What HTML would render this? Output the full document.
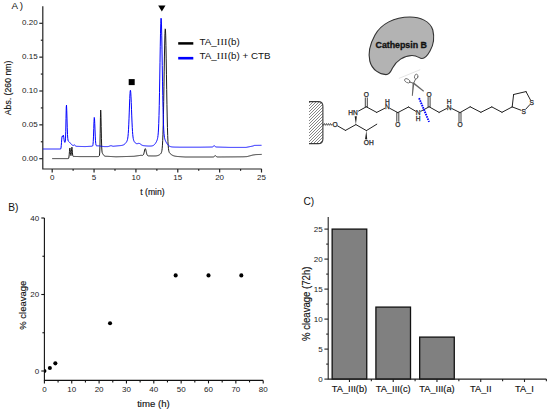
<!DOCTYPE html>
<html><head><meta charset="utf-8"><style>
html,body{margin:0;padding:0;background:#fff;}
body{width:550px;height:413px;overflow:hidden;}
svg{display:block;font-family:"Liberation Sans", sans-serif;}
</style></head><body>
<svg width="550" height="413" viewBox="0 0 550 413">
<rect width="550" height="413" fill="#fff"/>
<!-- Panel A -->
<text x="11.6" y="9" font-size="9.8" letter-spacing="1.6" fill="#111">A)</text>
<g stroke="#222" stroke-width="1.2" fill="none">
<path d="M42.8,6.3 L42.8,169 L261.7,169"/>
<line x1="39.3" y1="158.70" x2="42.8" y2="158.70"/>
<line x1="40.8" y1="141.77" x2="42.8" y2="141.77"/>
<line x1="39.3" y1="124.85" x2="42.8" y2="124.85"/>
<line x1="40.8" y1="107.92" x2="42.8" y2="107.92"/>
<line x1="39.3" y1="91.00" x2="42.8" y2="91.00"/>
<line x1="40.8" y1="74.07" x2="42.8" y2="74.07"/>
<line x1="39.3" y1="57.15" x2="42.8" y2="57.15"/>
<line x1="40.8" y1="40.22" x2="42.8" y2="40.22"/>
<line x1="39.3" y1="23.30" x2="42.8" y2="23.30"/>
<line x1="52.20" y1="169" x2="52.20" y2="172.5"/>
<line x1="73.13" y1="169" x2="73.13" y2="170.8"/>
<line x1="94.06" y1="169" x2="94.06" y2="172.5"/>
<line x1="114.99" y1="169" x2="114.99" y2="170.8"/>
<line x1="135.92" y1="169" x2="135.92" y2="172.5"/>
<line x1="156.85" y1="169" x2="156.85" y2="170.8"/>
<line x1="177.78" y1="169" x2="177.78" y2="172.5"/>
<line x1="198.71" y1="169" x2="198.71" y2="170.8"/>
<line x1="219.64" y1="169" x2="219.64" y2="172.5"/>
<line x1="240.57" y1="169" x2="240.57" y2="170.8"/>
<line x1="261.50" y1="169" x2="261.50" y2="172.5"/>
</g>
<g font-size="8" fill="#222">
<text x="37.6" y="160.60" text-anchor="end">0.00</text>
<text x="37.6" y="126.75" text-anchor="end">0.05</text>
<text x="37.6" y="92.90" text-anchor="end">0.10</text>
<text x="37.6" y="59.05" text-anchor="end">0.15</text>
<text x="37.6" y="25.20" text-anchor="end">0.20</text>
<text x="52.20" y="180.1" text-anchor="middle">0</text>
<text x="94.06" y="180.1" text-anchor="middle">5</text>
<text x="135.92" y="180.1" text-anchor="middle">10</text>
<text x="177.78" y="180.1" text-anchor="middle">15</text>
<text x="219.64" y="180.1" text-anchor="middle">20</text>
<text x="261.50" y="180.1" text-anchor="middle">25</text>
</g>
<text x="152.5" y="194.5" font-size="8.6" fill="#111" stroke="#111" stroke-width="0.15" text-anchor="middle">t (min)</text>
<text transform="translate(10.6,87.9) rotate(-90)" font-size="8.7" fill="#111" stroke="#111" stroke-width="0.15" text-anchor="middle">Abs. (260 nm)</text>
<path d="M52.20,158.60 L52.45,158.60 L52.70,158.60 L52.95,158.60 L53.20,158.60 L53.45,158.60 L53.70,158.60 L53.95,158.60 L54.20,158.60 L54.45,158.60 L54.70,158.60 L54.95,158.60 L55.20,158.60 L55.45,158.60 L55.70,158.60 L55.95,158.60 L56.20,158.60 L56.45,158.60 L56.70,158.60 L56.95,158.60 L57.20,158.60 L57.45,158.60 L57.70,158.60 L57.95,158.60 L58.20,158.60 L58.45,158.60 L58.70,158.60 L58.95,158.60 L59.20,158.60 L59.45,158.60 L59.70,158.60 L59.95,158.60 L60.20,158.60 L60.45,158.60 L60.70,158.60 L60.95,158.60 L61.20,158.60 L61.45,158.60 L61.70,158.60 L61.95,158.60 L62.20,158.60 L62.45,158.60 L62.70,158.60 L62.95,158.60 L63.20,158.60 L63.45,158.60 L63.70,158.60 L63.95,158.60 L64.20,158.60 L64.45,158.60 L64.70,158.60 L64.95,158.60 L65.20,158.60 L65.45,158.60 L65.70,158.60 L65.95,158.60 L66.20,158.60 L66.45,158.60 L66.70,158.60 L66.95,158.60 L67.20,158.60 L67.45,158.60 L67.70,158.60 L67.95,158.60 L68.20,158.59 L68.45,158.55 L68.70,158.17 L68.95,157.01 L69.20,154.85 L69.45,151.63 L69.70,148.81 L69.95,147.98 L70.20,149.68 L70.45,152.57 L70.70,154.85 L70.95,155.61 L71.20,154.54 L71.45,151.62 L71.70,148.27 L71.95,147.19 L72.20,149.40 L72.45,152.84 L72.70,155.21 L72.95,156.15 L73.20,156.37 L73.45,156.40 L73.70,156.41 L73.95,156.42 L74.20,156.43 L74.45,156.43 L74.70,156.44 L74.95,156.45 L75.20,156.46 L75.45,156.46 L75.70,156.47 L75.95,156.48 L76.20,156.49 L76.45,156.49 L76.70,156.50 L76.95,156.51 L77.20,156.52 L77.45,156.52 L77.70,156.53 L77.95,156.54 L78.20,156.55 L78.45,156.55 L78.70,156.56 L78.95,156.57 L79.20,156.58 L79.45,156.58 L79.70,156.59 L79.95,156.60 L80.20,156.60 L80.45,156.60 L80.70,156.60 L80.95,156.60 L81.20,156.60 L81.45,156.60 L81.70,156.60 L81.95,156.60 L82.20,156.60 L82.45,156.60 L82.70,156.60 L82.95,156.60 L83.20,156.60 L83.45,156.60 L83.70,156.60 L83.95,156.60 L84.20,156.60 L84.45,156.60 L84.70,156.60 L84.95,156.60 L85.20,156.60 L85.45,156.60 L85.70,156.60 L85.95,156.60 L86.20,156.60 L86.45,156.60 L86.70,156.60 L86.95,156.60 L87.20,156.60 L87.45,156.60 L87.70,156.60 L87.95,156.60 L88.20,156.60 L88.45,156.60 L88.70,156.60 L88.95,156.60 L89.20,156.60 L89.45,156.60 L89.70,156.60 L89.95,156.60 L90.20,156.60 L90.45,156.60 L90.70,156.60 L90.95,156.60 L91.20,156.60 L91.45,156.60 L91.70,156.60 L91.95,156.60 L92.20,156.60 L92.45,156.60 L92.70,156.60 L92.95,156.60 L93.20,156.60 L93.45,156.60 L93.70,156.60 L93.95,156.60 L94.20,156.60 L94.45,156.60 L94.70,156.60 L94.95,156.60 L95.20,156.60 L95.45,156.60 L95.70,156.60 L95.95,156.60 L96.20,156.60 L96.45,156.60 L96.70,156.60 L96.95,156.60 L97.20,156.59 L97.45,156.59 L97.70,156.58 L97.95,156.56 L98.20,156.52 L98.45,156.47 L98.70,156.40 L98.95,156.28 L99.20,156.04 L99.45,155.37 L99.70,153.03 L99.95,146.35 L100.20,133.24 L100.45,117.63 L100.70,110.07 L100.95,114.85 L101.20,126.66 L101.45,138.82 L101.70,147.02 L101.95,151.04 L102.20,152.61 L102.45,153.24 L102.70,153.65 L102.95,154.03 L103.20,154.43 L103.45,154.82 L103.70,155.18 L103.95,155.48 L104.20,155.73 L104.45,155.93 L104.70,156.07 L104.95,156.17 L105.20,156.23 L105.45,156.27 L105.70,156.29 L105.95,156.30 L106.20,156.31 L106.45,156.31 L106.70,156.30 L106.95,156.30 L107.20,156.31 L107.45,156.32 L107.70,156.34 L107.95,156.35 L108.20,156.37 L108.45,156.38 L108.70,156.39 L108.95,156.41 L109.20,156.42 L109.45,156.44 L109.70,156.45 L109.95,156.46 L110.20,156.48 L110.45,156.49 L110.70,156.51 L110.95,156.52 L111.20,156.53 L111.45,156.55 L111.70,156.56 L111.95,156.57 L112.20,156.59 L112.45,156.60 L112.70,156.62 L112.95,156.63 L113.20,156.64 L113.45,156.66 L113.70,156.67 L113.95,156.69 L114.20,156.70 L114.45,156.71 L114.70,156.73 L114.95,156.74 L115.20,156.76 L115.45,156.77 L115.70,156.78 L115.95,156.80 L116.20,156.79 L116.45,156.79 L116.70,156.78 L116.95,156.77 L117.20,156.77 L117.45,156.76 L117.70,156.75 L117.95,156.75 L118.20,156.74 L118.45,156.73 L118.70,156.73 L118.95,156.72 L119.20,156.71 L119.45,156.70 L119.70,156.70 L119.95,156.69 L120.20,156.68 L120.45,156.68 L120.70,156.67 L120.95,156.66 L121.20,156.66 L121.45,156.65 L121.70,156.64 L121.95,156.63 L122.20,156.63 L122.45,156.62 L122.70,156.61 L122.95,156.61 L123.20,156.60 L123.45,156.59 L123.70,156.59 L123.95,156.58 L124.20,156.57 L124.45,156.57 L124.70,156.56 L124.95,156.55 L125.20,156.54 L125.45,156.54 L125.70,156.53 L125.95,156.52 L126.20,156.52 L126.45,156.51 L126.70,156.50 L126.95,156.50 L127.20,156.49 L127.45,156.48 L127.70,156.48 L127.95,156.47 L128.20,156.46 L128.45,156.45 L128.70,156.45 L128.95,156.44 L129.20,156.43 L129.45,156.43 L129.70,156.42 L129.95,156.41 L130.20,156.41 L130.45,156.40 L130.70,156.39 L130.95,156.38 L131.20,156.38 L131.45,156.37 L131.70,156.36 L131.95,156.36 L132.20,156.35 L132.45,156.34 L132.70,156.34 L132.95,156.33 L133.20,156.32 L133.45,156.32 L133.70,156.31 L133.95,156.30 L134.20,156.27 L134.45,156.24 L134.70,156.20 L134.95,156.16 L135.20,156.13 L135.45,156.09 L135.70,156.06 L135.95,156.02 L136.20,155.99 L136.45,155.95 L136.70,155.91 L136.95,155.88 L137.20,155.84 L137.45,155.81 L137.70,155.77 L137.95,155.74 L138.20,155.70 L138.45,155.66 L138.70,155.63 L138.95,155.59 L139.20,155.56 L139.45,155.52 L139.70,155.49 L139.95,155.45 L140.20,155.41 L140.45,155.38 L140.70,155.34 L140.95,155.31 L141.20,155.32 L141.45,155.33 L141.70,155.35 L141.95,155.37 L142.20,155.38 L142.45,155.37 L142.70,155.33 L142.95,155.22 L143.20,155.01 L143.45,154.65 L143.70,154.07 L143.95,153.26 L144.20,152.24 L144.45,151.09 L144.70,149.99 L144.95,149.12 L145.20,148.67 L145.45,148.75 L145.70,149.33 L145.95,150.30 L146.20,151.46 L146.45,152.64 L146.70,153.66 L146.95,154.47 L147.20,155.04 L147.45,155.41 L147.70,155.63 L147.95,155.76 L148.20,155.83 L148.45,155.87 L148.70,155.90 L148.95,155.90 L149.20,155.91 L149.45,155.91 L149.70,155.91 L149.95,155.92 L150.20,155.92 L150.45,155.92 L150.70,155.93 L150.95,155.93 L151.20,155.93 L151.45,155.94 L151.70,155.94 L151.95,155.94 L152.20,155.95 L152.45,155.95 L152.70,155.95 L152.95,155.95 L153.20,155.96 L153.45,155.96 L153.70,155.96 L153.95,155.96 L154.20,155.96 L154.45,155.95 L154.70,155.95 L154.95,155.95 L155.20,155.94 L155.45,155.93 L155.70,155.92 L155.95,155.90 L156.20,155.87 L156.45,155.84 L156.70,155.80 L156.95,155.75 L157.20,155.70 L157.45,155.64 L157.70,155.57 L157.95,155.49 L158.20,155.40 L158.45,155.30 L158.70,155.19 L158.95,155.06 L159.20,154.92 L159.45,154.77 L159.70,154.60 L159.95,154.42 L160.20,154.22 L160.45,154.00 L160.70,153.75 L160.95,153.44 L161.20,153.04 L161.45,152.46 L161.70,151.61 L161.95,150.29 L162.20,148.26 L162.45,145.18 L162.70,140.65 L162.95,134.27 L163.20,125.70 L163.45,114.76 L163.70,101.60 L163.95,86.74 L164.20,71.11 L164.45,56.05 L164.70,43.05 L164.95,33.60 L165.20,28.83 L165.45,29.37 L165.70,35.13 L165.95,45.39 L166.20,58.91 L166.45,74.18 L166.70,89.71 L166.95,104.27 L167.20,116.98 L167.45,127.40 L167.70,135.48 L167.95,141.42 L168.20,145.59 L168.45,148.40 L168.70,150.23 L168.95,151.41 L169.20,152.18 L169.45,152.69 L169.70,153.06 L169.95,153.34 L170.20,153.60 L170.45,153.84 L170.70,154.06 L170.95,154.26 L171.20,154.46 L171.45,154.64 L171.70,154.81 L171.95,154.97 L172.20,155.12 L172.45,155.25 L172.70,155.38 L172.95,155.50 L173.20,155.60 L173.45,155.70 L173.70,155.79 L173.95,155.87 L174.20,155.95 L174.45,156.01 L174.70,156.07 L174.95,156.13 L175.20,156.18 L175.45,156.23 L175.70,156.27 L175.95,156.31 L176.20,156.34 L176.45,156.37 L176.70,156.40 L176.95,156.42 L177.20,156.45 L177.45,156.47 L177.70,156.49 L177.95,156.51 L178.20,156.53 L178.45,156.55 L178.70,156.57 L178.95,156.59 L179.20,156.61 L179.45,156.63 L179.70,156.64 L179.95,156.66 L180.20,156.68 L180.45,156.70 L180.70,156.71 L180.95,156.73 L181.20,156.75 L181.45,156.76 L181.70,156.78 L181.95,156.80 L182.20,156.81 L182.45,156.83 L182.70,156.85 L182.95,156.86 L183.20,156.88 L183.45,156.90 L183.70,156.91 L183.95,156.93 L184.20,156.95 L184.45,156.96 L184.70,156.98 L184.95,157.00 L185.20,157.00 L185.45,157.00 L185.70,157.00 L185.95,157.00 L186.20,157.00 L186.45,157.00 L186.70,157.00 L186.95,157.00 L187.20,157.00 L187.45,157.00 L187.70,157.00 L187.95,157.00 L188.20,157.00 L188.45,157.00 L188.70,157.00 L188.95,157.00 L189.20,157.00 L189.45,157.00 L189.70,157.00 L189.95,157.00 L190.20,157.00 L190.45,157.00 L190.70,157.00 L190.95,157.00 L191.20,157.00 L191.45,157.00 L191.70,157.00 L191.95,157.00 L192.20,157.00 L192.45,157.00 L192.70,157.00 L192.95,157.00 L193.20,157.00 L193.45,157.00 L193.70,157.00 L193.95,157.00 L194.20,157.00 L194.45,157.00 L194.70,157.00 L194.95,157.00 L195.20,157.00 L195.45,157.00 L195.70,157.00 L195.95,157.00 L196.20,157.00 L196.45,157.00 L196.70,157.00 L196.95,157.00 L197.20,157.00 L197.45,157.00 L197.70,157.00 L197.95,157.00 L198.20,157.00 L198.45,157.00 L198.70,157.00 L198.95,157.00 L199.20,157.00 L199.45,157.00 L199.70,157.00 L199.95,157.00 L200.20,157.00 L200.45,157.00 L200.70,157.00 L200.95,157.00 L201.20,157.00 L201.45,157.00 L201.70,157.00 L201.95,157.00 L202.20,157.00 L202.45,157.00 L202.70,157.00 L202.95,157.00 L203.20,157.00 L203.45,157.00 L203.70,157.00 L203.95,157.00 L204.20,157.00 L204.45,157.00 L204.70,157.00 L204.95,157.00 L205.20,157.00 L205.45,157.00 L205.70,157.00 L205.95,157.00 L206.20,157.00 L206.45,157.00 L206.70,157.00 L206.95,157.00 L207.20,157.00 L207.45,157.00 L207.70,157.00 L207.95,157.00 L208.20,157.00 L208.45,157.00 L208.70,157.00 L208.95,157.00 L209.20,157.00 L209.45,157.00 L209.70,157.00 L209.95,157.00 L210.20,157.00 L210.45,157.00 L210.70,157.00 L210.95,157.00 L211.20,157.00 L211.45,157.00 L211.70,157.00 L211.95,157.00 L212.20,157.00 L212.45,157.00 L212.70,156.99 L212.95,156.98 L213.20,156.96 L213.45,156.91 L213.70,156.82 L213.95,156.69 L214.20,156.49 L214.45,156.26 L214.70,156.02 L214.95,155.82 L215.20,155.71 L215.45,155.72 L215.70,155.85 L215.95,156.07 L216.20,156.31 L216.45,156.53 L216.70,156.71 L216.95,156.84 L217.20,156.91 L217.45,156.95 L217.70,156.97 L217.95,156.98 L218.20,156.98 L218.45,156.98 L218.70,156.98 L218.95,156.98 L219.20,156.98 L219.45,156.97 L219.70,156.97 L219.95,156.97 L220.20,156.97 L220.45,156.97 L220.70,156.97 L220.95,156.96 L221.20,156.96 L221.45,156.96 L221.70,156.96 L221.95,156.96 L222.20,156.95 L222.45,156.95 L222.70,156.95 L222.95,156.95 L223.20,156.95 L223.45,156.94 L223.70,156.94 L223.95,156.94 L224.20,156.94 L224.45,156.94 L224.70,156.94 L224.95,156.93 L225.20,156.93 L225.45,156.93 L225.70,156.93 L225.95,156.93 L226.20,156.92 L226.45,156.92 L226.70,156.92 L226.95,156.92 L227.20,156.92 L227.45,156.92 L227.70,156.91 L227.95,156.91 L228.20,156.91 L228.45,156.91 L228.70,156.91 L228.95,156.90 L229.20,156.90 L229.45,156.90 L229.70,156.90 L229.95,156.90 L230.20,156.89 L230.45,156.89 L230.70,156.89 L230.95,156.89 L231.20,156.89 L231.45,156.89 L231.70,156.88 L231.95,156.88 L232.20,156.88 L232.45,156.88 L232.70,156.88 L232.95,156.87 L233.20,156.87 L233.45,156.87 L233.70,156.87 L233.95,156.87 L234.20,156.87 L234.45,156.86 L234.70,156.86 L234.95,156.86 L235.20,156.86 L235.45,156.86 L235.70,156.85 L235.95,156.85 L236.20,156.85 L236.45,156.85 L236.70,156.85 L236.95,156.84 L237.20,156.84 L237.45,156.84 L237.70,156.84 L237.95,156.84 L238.20,156.84 L238.45,156.83 L238.70,156.83 L238.95,156.83 L239.20,156.83 L239.45,156.83 L239.70,156.82 L239.95,156.82 L240.20,156.82 L240.45,156.82 L240.70,156.82 L240.95,156.82 L241.20,156.81 L241.45,156.81 L241.70,156.81 L241.95,156.81 L242.20,156.81 L242.45,156.80 L242.70,156.80 L242.95,156.80 L243.20,156.79 L243.45,156.78 L243.70,156.77 L243.95,156.75 L244.20,156.74 L244.45,156.73 L244.70,156.72 L244.95,156.70 L245.20,156.69 L245.45,156.68 L245.70,156.66 L245.95,156.65 L246.20,156.64 L246.45,156.63 L246.70,156.62 L246.95,156.60 L247.20,156.55 L247.45,156.48 L247.70,156.41 L247.95,156.35 L248.20,156.28 L248.45,156.21 L248.70,156.15 L248.95,156.08 L249.20,156.01 L249.45,155.95 L249.70,155.88 L249.95,155.81 L250.20,155.75 L250.45,155.68 L250.70,155.61 L250.95,155.55 L251.20,155.48 L251.45,155.41 L251.70,155.35 L251.95,155.28 L252.20,155.21 L252.45,155.15 L252.70,155.08 L252.95,155.01 L253.20,154.97 L253.45,154.94 L253.70,154.91 L253.95,154.87 L254.20,154.84 L254.45,154.81 L254.70,154.77 L254.95,154.74 L255.20,154.71 L255.45,154.67 L255.70,154.64 L255.95,154.61 L256.20,154.59 L256.45,154.58 L256.70,154.58 L256.95,154.57 L257.20,154.56 L257.45,154.55 L257.70,154.54 L257.95,154.53 L258.20,154.52 L258.45,154.51 L258.70,154.51 L258.95,154.50 L259.20,154.49 L259.45,154.48 L259.70,154.47 L259.95,154.46 L260.20,154.45 L260.45,154.44 L260.70,154.44 L260.95,154.43 L261.20,154.42 L261.45,154.41 L261.70,154.40" fill="none" stroke="#1a1a1a" stroke-width="1" stroke-linejoin="round"/>
<path d="M43.00,149.00 L43.25,149.00 L43.50,149.00 L43.75,149.00 L44.00,149.00 L44.25,149.00 L44.50,149.00 L44.75,149.00 L45.00,149.00 L45.25,149.00 L45.50,149.00 L45.75,149.00 L46.00,149.00 L46.25,149.00 L46.50,149.00 L46.75,149.00 L47.00,149.00 L47.25,149.00 L47.50,149.00 L47.75,149.00 L48.00,149.00 L48.25,149.00 L48.50,149.00 L48.75,149.00 L49.00,149.00 L49.25,149.00 L49.50,149.00 L49.75,149.00 L50.00,149.00 L50.25,149.00 L50.50,149.00 L50.75,149.00 L51.00,149.00 L51.25,149.00 L51.50,149.00 L51.75,149.00 L52.00,149.00 L52.25,149.00 L52.50,149.00 L52.75,149.00 L53.00,149.00 L53.25,149.00 L53.50,149.00 L53.75,149.00 L54.00,149.00 L54.25,149.00 L54.50,149.00 L54.75,149.00 L55.00,149.00 L55.25,149.00 L55.50,149.00 L55.75,149.00 L56.00,149.00 L56.25,149.00 L56.50,149.00 L56.75,149.00 L57.00,149.00 L57.25,149.00 L57.50,149.00 L57.75,149.00 L58.00,149.00 L58.25,149.00 L58.50,149.00 L58.75,149.00 L59.00,149.00 L59.25,149.00 L59.50,149.00 L59.75,149.00 L60.00,148.99 L60.25,148.98 L60.50,148.96 L60.75,148.86 L61.00,147.98 L61.25,145.66 L61.50,142.34 L61.75,139.08 L62.00,136.81 L62.25,136.12 L62.50,136.55 L62.75,136.62 L63.00,135.78 L63.25,135.02 L63.50,135.49 L63.75,137.22 L64.00,139.28 L64.25,140.88 L64.50,141.81 L64.75,142.28 L65.00,142.40 L65.25,141.77 L65.50,138.89 L65.75,131.27 L66.00,118.64 L66.25,107.12 L66.50,105.13 L66.75,110.28 L67.00,118.98 L67.25,127.80 L67.50,134.42 L67.75,138.31 L68.00,140.14 L68.25,140.97 L68.50,141.33 L68.75,141.55 L69.00,141.76 L69.25,141.98 L69.50,142.23 L69.75,142.50 L70.00,142.79 L70.25,143.08 L70.50,143.38 L70.75,143.68 L71.00,143.97 L71.25,144.21 L71.50,144.45 L71.75,144.67 L72.00,144.88 L72.25,145.06 L72.50,145.23 L72.75,145.38 L73.00,145.52 L73.25,145.45 L73.50,145.37 L73.75,145.28 L74.00,145.17 L74.25,145.06 L74.50,144.95 L74.75,145.18 L75.00,145.41 L75.25,145.63 L75.50,145.85 L75.75,146.08 L76.00,146.29 L76.25,146.30 L76.50,146.31 L76.75,146.32 L77.00,146.33 L77.25,146.34 L77.50,146.35 L77.75,146.36 L78.00,146.37 L78.25,146.37 L78.50,146.38 L78.75,146.39 L79.00,146.40 L79.25,146.41 L79.50,146.42 L79.75,146.42 L80.00,146.43 L80.25,146.44 L80.50,146.45 L80.75,146.46 L81.00,146.47 L81.25,146.47 L81.50,146.48 L81.75,146.49 L82.00,146.50 L82.25,146.51 L82.50,146.52 L82.75,146.52 L83.00,146.53 L83.25,146.54 L83.50,146.55 L83.75,146.56 L84.00,146.57 L84.25,146.57 L84.50,146.58 L84.75,146.59 L85.00,146.60 L85.25,146.59 L85.50,146.57 L85.75,146.56 L86.00,146.54 L86.25,146.53 L86.50,146.51 L86.75,146.50 L87.00,146.49 L87.25,146.47 L87.50,146.46 L87.75,146.44 L88.00,146.43 L88.25,146.41 L88.50,146.40 L88.75,146.39 L89.00,146.37 L89.25,146.36 L89.50,146.34 L89.75,146.33 L90.00,146.31 L90.25,146.30 L90.50,146.29 L90.75,146.27 L91.00,146.26 L91.25,146.24 L91.50,146.23 L91.75,146.21 L92.00,146.20 L92.25,146.16 L92.50,146.03 L92.75,145.61 L93.00,144.38 L93.25,141.48 L93.50,136.14 L93.75,128.68 L94.00,121.33 L94.25,117.47 L94.50,118.66 L94.75,123.43 L95.00,129.93 L95.25,136.12 L95.50,140.75 L95.75,143.57 L96.00,144.99 L96.25,145.60 L96.50,145.81 L96.75,145.86 L97.00,145.86 L97.25,145.85 L97.50,145.83 L97.75,145.82 L98.00,145.80 L98.25,145.83 L98.50,145.87 L98.75,145.90 L99.00,145.93 L99.25,145.97 L99.50,146.00 L99.75,146.03 L100.00,146.07 L100.25,146.10 L100.50,146.13 L100.75,146.17 L101.00,146.20 L101.25,146.23 L101.50,146.27 L101.75,146.30 L102.00,146.33 L102.25,146.37 L102.50,146.40 L102.75,146.43 L103.00,146.47 L103.25,146.50 L103.50,146.53 L103.75,146.57 L104.00,146.60 L104.25,146.60 L104.50,146.60 L104.75,146.60 L105.00,146.60 L105.25,146.60 L105.50,146.60 L105.75,146.60 L106.00,146.60 L106.25,146.60 L106.50,146.60 L106.75,146.60 L107.00,146.60 L107.25,146.60 L107.50,146.60 L107.75,146.60 L108.00,146.60 L108.25,146.52 L108.50,146.43 L108.75,146.35 L109.00,146.27 L109.25,146.18 L109.50,146.10 L109.75,146.02 L110.00,145.93 L110.25,145.85 L110.50,145.77 L110.75,145.68 L111.00,145.60 L111.25,145.69 L111.50,145.77 L111.75,145.86 L112.00,145.95 L112.25,146.04 L112.50,146.12 L112.75,146.21 L113.00,146.30 L113.25,146.27 L113.50,146.25 L113.75,146.22 L114.00,146.20 L114.25,146.17 L114.50,146.15 L114.75,146.12 L115.00,146.10 L115.25,146.07 L115.50,146.05 L115.75,146.02 L116.00,146.00 L116.25,145.97 L116.50,145.95 L116.75,145.92 L117.00,145.90 L117.25,145.87 L117.50,145.85 L117.75,145.82 L118.00,145.80 L118.25,145.78 L118.50,145.76 L118.75,145.74 L119.00,145.72 L119.25,145.70 L119.50,145.68 L119.75,145.65 L120.00,145.63 L120.25,145.61 L120.50,145.58 L120.75,145.55 L121.00,145.52 L121.25,145.48 L121.50,145.45 L121.75,145.40 L122.00,145.35 L122.25,145.29 L122.50,145.23 L122.75,145.15 L123.00,145.07 L123.25,144.97 L123.50,144.85 L123.75,144.73 L124.00,144.58 L124.25,144.41 L124.50,144.23 L124.75,144.02 L125.00,143.79 L125.25,143.54 L125.50,143.26 L125.75,142.96 L126.00,142.63 L126.25,142.29 L126.50,141.92 L126.75,141.49 L127.00,140.98 L127.25,140.32 L127.50,139.41 L127.75,138.11 L128.00,136.22 L128.25,133.50 L128.50,129.76 L128.75,124.87 L129.00,118.87 L129.25,112.08 L129.50,105.05 L129.75,98.56 L130.00,93.49 L130.25,90.59 L130.50,90.29 L130.75,92.48 L131.00,96.79 L131.25,102.62 L131.50,109.24 L131.75,115.91 L132.00,122.05 L132.25,127.29 L132.50,131.49 L132.75,134.66 L133.00,136.97 L133.25,138.59 L133.50,139.72 L133.75,140.52 L134.00,141.12 L134.25,141.58 L134.50,141.96 L134.75,142.28 L135.00,142.57 L135.25,142.83 L135.50,143.05 L135.75,143.25 L136.00,143.40 L136.25,143.53 L136.50,143.61 L136.75,143.67 L137.00,143.68 L137.25,143.67 L137.50,143.63 L137.75,143.57 L138.00,143.51 L138.25,143.43 L138.50,143.37 L138.75,143.32 L139.00,143.29 L139.25,143.37 L139.50,143.47 L139.75,143.61 L140.00,143.76 L140.25,143.94 L140.50,144.12 L140.75,144.31 L141.00,144.50 L141.25,144.68 L141.50,144.85 L141.75,145.00 L142.00,145.14 L142.25,145.26 L142.50,145.37 L142.75,145.46 L143.00,145.55 L143.25,145.59 L143.50,145.63 L143.75,145.66 L144.00,145.69 L144.25,145.72 L144.50,145.75 L144.75,145.77 L145.00,145.80 L145.25,145.82 L145.50,145.85 L145.75,145.87 L146.00,145.90 L146.25,145.92 L146.50,145.95 L146.75,145.97 L147.00,146.00 L147.25,146.01 L147.50,146.01 L147.75,146.02 L148.00,146.03 L148.25,146.04 L148.50,146.04 L148.75,146.05 L149.00,146.05 L149.25,146.06 L149.50,146.06 L149.75,146.06 L150.00,146.06 L150.25,146.05 L150.50,146.05 L150.75,146.04 L151.00,146.02 L151.25,146.00 L151.50,145.98 L151.75,145.94 L152.00,145.90 L152.25,145.85 L152.50,145.78 L152.75,145.70 L153.00,145.61 L153.25,145.48 L153.50,145.33 L153.75,145.17 L154.00,144.97 L154.25,144.76 L154.50,144.52 L154.75,144.25 L155.00,143.95 L155.25,143.62 L155.50,143.26 L155.75,142.86 L156.00,142.44 L156.25,141.98 L156.50,141.49 L156.75,140.95 L157.00,140.33 L157.25,139.60 L157.50,138.67 L157.75,137.40 L158.00,135.58 L158.25,132.91 L158.50,128.99 L158.75,123.35 L159.00,115.56 L159.25,105.35 L159.50,92.70 L159.75,78.04 L160.00,62.28 L160.25,46.79 L160.50,33.22 L160.75,23.25 L161.00,18.21 L161.25,18.80 L161.50,24.94 L161.75,35.77 L162.00,49.87 L162.25,65.54 L162.50,81.17 L162.75,95.47 L163.00,107.64 L163.25,117.33 L163.50,124.64 L163.75,129.88 L164.00,133.50 L164.25,135.94 L164.50,137.60 L164.75,138.75 L165.00,139.61 L165.25,140.29 L165.50,140.88 L165.75,141.41 L166.00,141.90 L166.25,142.37 L166.50,142.81 L166.75,143.23 L167.00,143.62 L167.25,143.98 L167.50,144.32 L167.75,144.63 L168.00,144.92 L168.25,145.18 L168.50,145.42 L168.75,145.64 L169.00,145.84 L169.25,146.01 L169.50,146.17 L169.75,146.31 L170.00,146.44 L170.25,146.53 L170.50,146.61 L170.75,146.68 L171.00,146.75 L171.25,146.80 L171.50,146.85 L171.75,146.88 L172.00,146.92 L172.25,146.95 L172.50,146.97 L172.75,146.99 L173.00,147.01 L173.25,147.02 L173.50,147.04 L173.75,147.05 L174.00,147.06 L174.25,147.07 L174.50,147.08 L174.75,147.09 L175.00,147.09 L175.25,147.10 L175.50,147.11 L175.75,147.11 L176.00,147.12 L176.25,147.12 L176.50,147.13 L176.75,147.13 L177.00,147.14 L177.25,147.14 L177.50,147.15 L177.75,147.15 L178.00,147.16 L178.25,147.16 L178.50,147.17 L178.75,147.17 L179.00,147.18 L179.25,147.18 L179.50,147.19 L179.75,147.19 L180.00,147.20 L180.25,147.20 L180.50,147.20 L180.75,147.20 L181.00,147.20 L181.25,147.20 L181.50,147.20 L181.75,147.20 L182.00,147.20 L182.25,147.20 L182.50,147.20 L182.75,147.20 L183.00,147.20 L183.25,147.20 L183.50,147.20 L183.75,147.20 L184.00,147.20 L184.25,147.20 L184.50,147.20 L184.75,147.20 L185.00,147.20 L185.25,147.20 L185.50,147.20 L185.75,147.20 L186.00,147.20 L186.25,147.20 L186.50,147.20 L186.75,147.20 L187.00,147.20 L187.25,147.20 L187.50,147.20 L187.75,147.20 L188.00,147.20 L188.25,147.20 L188.50,147.20 L188.75,147.20 L189.00,147.20 L189.25,147.20 L189.50,147.20 L189.75,147.20 L190.00,147.20 L190.25,147.20 L190.50,147.20 L190.75,147.20 L191.00,147.20 L191.25,147.20 L191.50,147.20 L191.75,147.20 L192.00,147.20 L192.25,147.20 L192.50,147.20 L192.75,147.20 L193.00,147.20 L193.25,147.20 L193.50,147.20 L193.75,147.20 L194.00,147.20 L194.25,147.20 L194.50,147.20 L194.75,147.20 L195.00,147.20 L195.25,147.20 L195.50,147.20 L195.75,147.20 L196.00,147.20 L196.25,147.20 L196.50,147.20 L196.75,147.20 L197.00,147.20 L197.25,147.20 L197.50,147.20 L197.75,147.20 L198.00,147.20 L198.25,147.20 L198.50,147.20 L198.75,147.20 L199.00,147.20 L199.25,147.20 L199.50,147.20 L199.75,147.20 L200.00,147.20 L200.25,147.20 L200.50,147.19 L200.75,147.19 L201.00,147.18 L201.25,147.18 L201.50,147.18 L201.75,147.17 L202.00,147.17 L202.25,147.17 L202.50,147.16 L202.75,147.16 L203.00,147.15 L203.25,147.15 L203.50,147.15 L203.75,147.14 L204.00,147.14 L204.25,147.13 L204.50,147.13 L204.75,147.13 L205.00,147.12 L205.25,147.12 L205.50,147.12 L205.75,147.11 L206.00,147.11 L206.25,147.10 L206.50,147.10 L206.75,147.10 L207.00,147.09 L207.25,147.09 L207.50,147.08 L207.75,147.08 L208.00,147.08 L208.25,147.07 L208.50,147.07 L208.75,147.07 L209.00,147.06 L209.25,147.06 L209.50,147.05 L209.75,147.05 L210.00,147.05 L210.25,147.04 L210.50,147.04 L210.75,147.03 L211.00,147.03 L211.25,147.03 L211.50,147.02 L211.75,147.01 L212.00,146.99 L212.25,146.95 L212.50,146.88 L212.75,146.77 L213.00,146.61 L213.25,146.41 L213.50,146.18 L213.75,145.98 L214.00,145.84 L214.25,145.80 L214.50,145.88 L214.75,146.05 L215.00,146.27 L215.25,146.49 L215.50,146.68 L215.75,146.82 L216.00,146.90 L216.25,146.96 L216.50,147.00 L216.75,147.01 L217.00,147.03 L217.25,147.03 L217.50,147.04 L217.75,147.05 L218.00,147.06 L218.25,147.06 L218.50,147.07 L218.75,147.08 L219.00,147.09 L219.25,147.09 L219.50,147.10 L219.75,147.11 L220.00,147.11 L220.25,147.12 L220.50,147.13 L220.75,147.14 L221.00,147.14 L221.25,147.15 L221.50,147.16 L221.75,147.16 L222.00,147.17 L222.25,147.18 L222.50,147.19 L222.75,147.19 L223.00,147.20 L223.25,147.21 L223.50,147.21 L223.75,147.22 L224.00,147.23 L224.25,147.24 L224.50,147.24 L224.75,147.25 L225.00,147.26 L225.25,147.26 L225.50,147.27 L225.75,147.28 L226.00,147.29 L226.25,147.29 L226.50,147.30 L226.75,147.31 L227.00,147.31 L227.25,147.32 L227.50,147.33 L227.75,147.34 L228.00,147.34 L228.25,147.35 L228.50,147.36 L228.75,147.36 L229.00,147.37 L229.25,147.38 L229.50,147.39 L229.75,147.39 L230.00,147.40 L230.25,147.40 L230.50,147.40 L230.75,147.40 L231.00,147.40 L231.25,147.40 L231.50,147.40 L231.75,147.40 L232.00,147.40 L232.25,147.40 L232.50,147.40 L232.75,147.40 L233.00,147.40 L233.25,147.40 L233.50,147.40 L233.75,147.40 L234.00,147.40 L234.25,147.40 L234.50,147.40 L234.75,147.40 L235.00,147.40 L235.25,147.40 L235.50,147.40 L235.75,147.40 L236.00,147.40 L236.25,147.40 L236.50,147.40 L236.75,147.40 L237.00,147.40 L237.25,147.40 L237.50,147.40 L237.75,147.40 L238.00,147.40 L238.25,147.40 L238.50,147.40 L238.75,147.40 L239.00,147.40 L239.25,147.40 L239.50,147.40 L239.75,147.40 L240.00,147.40 L240.25,147.40 L240.50,147.40 L240.75,147.40 L241.00,147.40 L241.25,147.40 L241.50,147.40 L241.75,147.40 L242.00,147.40 L242.25,147.40 L242.50,147.40 L242.75,147.40 L243.00,147.40 L243.25,147.40 L243.50,147.40 L243.75,147.40 L244.00,147.40 L244.25,147.40 L244.50,147.40 L244.75,147.40 L245.00,147.40 L245.25,147.40 L245.50,147.40 L245.75,147.40 L246.00,147.40 L246.25,147.35 L246.50,147.30 L246.75,147.25 L247.00,147.20 L247.25,147.15 L247.50,147.10 L247.75,147.05 L248.00,147.00 L248.25,146.95 L248.50,146.90 L248.75,146.85 L249.00,146.80 L249.25,146.75 L249.50,146.70 L249.75,146.65 L250.00,146.60 L250.25,146.55 L250.50,146.50 L250.75,146.45 L251.00,146.40 L251.25,146.35 L251.50,146.30 L251.75,146.25 L252.00,146.20 L252.25,146.15 L252.50,146.10 L252.75,146.05 L253.00,146.00 L253.25,145.90 L253.50,145.80 L253.75,145.70 L254.00,145.60 L254.25,145.50 L254.50,145.40 L254.75,145.40 L255.00,145.39 L255.25,145.39 L255.50,145.39 L255.75,145.38 L256.00,145.38 L256.25,145.38 L256.50,145.37 L256.75,145.37 L257.00,145.37 L257.25,145.36 L257.50,145.36 L257.75,145.35 L258.00,145.35 L258.25,145.35 L258.50,145.34 L258.75,145.34 L259.00,145.34 L259.25,145.33 L259.50,145.33 L259.75,145.33 L260.00,145.32 L260.25,145.32 L260.50,145.32 L260.75,145.31 L261.00,145.31 L261.25,145.31 L261.50,145.30" fill="none" stroke="#0000ff" stroke-width="1" stroke-linejoin="round"/>
<rect x="128.7" y="79.1" width="6" height="6" fill="#000"/>
<path d="M158.2,5.5 L165.5,5.5 L161.85,11.4 Z" fill="#000"/>
<line x1="178.2" y1="43.4" x2="193.3" y2="43.4" stroke="#000" stroke-width="2.5"/>
<line x1="178.2" y1="58.2" x2="193.3" y2="58.2" stroke="#00f" stroke-width="2.6"/>
<g font-size="8.7" fill="#111">
<text transform="translate(199.4,44.9) scale(1.13,1)">TA_<tspan font-family="Liberation Serif" font-size="9" letter-spacing="0.3">III</tspan>(b)</text>
<text transform="translate(199.4,58.9) scale(1.13,1)">TA_<tspan font-family="Liberation Serif" font-size="9" letter-spacing="0.3">III</tspan>(b) + CTB</text>
</g>

<!-- Panel B -->
<text x="8.3" y="210.7" font-size="10.2" fill="#111">B)</text>
<g stroke="#111" stroke-width="1.1" fill="none">
<path d="M44.4,218 L44.4,380.4 L263.2,380.4"/>
<line x1="41.3" y1="371.00" x2="44.4" y2="371.00"/>
<line x1="41.3" y1="294.50" x2="44.4" y2="294.50"/>
<line x1="41.3" y1="218.00" x2="44.4" y2="218.00"/>
<line x1="42.4" y1="332.75" x2="44.4" y2="332.75"/>
<line x1="42.4" y1="256.25" x2="44.4" y2="256.25"/>
<line x1="44.40" y1="380.4" x2="44.40" y2="383.4"/>
<line x1="58.07" y1="380.4" x2="58.07" y2="382.4"/>
<line x1="71.75" y1="380.4" x2="71.75" y2="383.4"/>
<line x1="85.42" y1="380.4" x2="85.42" y2="382.4"/>
<line x1="99.10" y1="380.4" x2="99.10" y2="383.4"/>
<line x1="112.78" y1="380.4" x2="112.78" y2="382.4"/>
<line x1="126.45" y1="380.4" x2="126.45" y2="383.4"/>
<line x1="140.12" y1="380.4" x2="140.12" y2="382.4"/>
<line x1="153.80" y1="380.4" x2="153.80" y2="383.4"/>
<line x1="167.47" y1="380.4" x2="167.47" y2="382.4"/>
<line x1="181.15" y1="380.4" x2="181.15" y2="383.4"/>
<line x1="194.82" y1="380.4" x2="194.82" y2="382.4"/>
<line x1="208.50" y1="380.4" x2="208.50" y2="383.4"/>
<line x1="222.18" y1="380.4" x2="222.18" y2="382.4"/>
<line x1="235.85" y1="380.4" x2="235.85" y2="383.4"/>
<line x1="249.53" y1="380.4" x2="249.53" y2="382.4"/>
<line x1="263.20" y1="380.4" x2="263.20" y2="383.4"/>
</g>
<g font-size="8" fill="#222">
<text x="39.2" y="373.80" text-anchor="end">0</text>
<text x="39.2" y="297.30" text-anchor="end">20</text>
<text x="39.2" y="220.80" text-anchor="end">40</text>
<text x="44.40" y="391.8" text-anchor="middle">0</text>
<text x="71.75" y="391.8" text-anchor="middle">10</text>
<text x="99.10" y="391.8" text-anchor="middle">20</text>
<text x="126.45" y="391.8" text-anchor="middle">30</text>
<text x="153.80" y="391.8" text-anchor="middle">40</text>
<text x="181.15" y="391.8" text-anchor="middle">50</text>
<text x="208.50" y="391.8" text-anchor="middle">60</text>
<text x="235.85" y="391.8" text-anchor="middle">70</text>
<text x="263.20" y="391.8" text-anchor="middle">80</text>
</g>
<clipPath id="plotB"><rect x="44.4" y="210" width="220" height="171"/></clipPath>
<g fill="#000" clip-path="url(#plotB)">
<circle cx="44.40" cy="371.00" r="2.05"/>
<circle cx="49.87" cy="367.94" r="2.05"/>
<circle cx="55.34" cy="363.35" r="2.05"/>
<circle cx="110.04" cy="323.19" r="2.05"/>
<circle cx="175.68" cy="275.38" r="2.05"/>
<circle cx="208.50" cy="275.38" r="2.05"/>
<circle cx="241.32" cy="275.38" r="2.05"/>
</g>
<text x="153.4" y="406.8" font-size="9.6" fill="#111" stroke="#111" stroke-width="0.15" text-anchor="middle">time (h)</text>
<text transform="translate(25.6,305.2) rotate(-90) scale(0.96,1)" font-size="9.9" fill="#111" stroke="#111" stroke-width="0.15" text-anchor="middle">% cleavage</text>

<!-- Panel C -->
<text x="303.5" y="204.8" font-size="10.2" fill="#111">C)</text>
<g fill="#808080" stroke="#111" stroke-width="1.3">
<rect x="332.15" y="229.10" width="34.6" height="150.00"/>
<rect x="375.91" y="307.10" width="34.6" height="72.00"/>
<rect x="419.67" y="337.10" width="34.6" height="42.00"/>
</g>
<g stroke="#222" stroke-width="1.1" fill="none">
<path d="M328.2,216.9 L328.2,379.1 L546.4,379.1"/>
<line x1="324.4" y1="379.10" x2="328.2" y2="379.10"/>
<line x1="326.2" y1="364.10" x2="328.2" y2="364.10"/>
<line x1="324.4" y1="349.10" x2="328.2" y2="349.10"/>
<line x1="326.2" y1="334.10" x2="328.2" y2="334.10"/>
<line x1="324.4" y1="319.10" x2="328.2" y2="319.10"/>
<line x1="326.2" y1="304.10" x2="328.2" y2="304.10"/>
<line x1="324.4" y1="289.10" x2="328.2" y2="289.10"/>
<line x1="326.2" y1="274.10" x2="328.2" y2="274.10"/>
<line x1="324.4" y1="259.10" x2="328.2" y2="259.10"/>
<line x1="326.2" y1="244.10" x2="328.2" y2="244.10"/>
<line x1="324.4" y1="229.10" x2="328.2" y2="229.10"/>
<line x1="349.45" y1="379.1" x2="349.45" y2="382"/>
<line x1="371.33" y1="379.1" x2="371.33" y2="381.2"/>
<line x1="393.21" y1="379.1" x2="393.21" y2="382"/>
<line x1="415.09" y1="379.1" x2="415.09" y2="381.2"/>
<line x1="436.97" y1="379.1" x2="436.97" y2="382"/>
<line x1="458.85" y1="379.1" x2="458.85" y2="381.2"/>
<line x1="480.73" y1="379.1" x2="480.73" y2="382"/>
<line x1="502.61" y1="379.1" x2="502.61" y2="381.2"/>
<line x1="524.49" y1="379.1" x2="524.49" y2="382"/>
<line x1="546.37" y1="379.1" x2="546.37" y2="381.2"/>
</g>
<g font-size="8" fill="#222">
<text x="322.6" y="381.90" text-anchor="end">0</text>
<text x="322.6" y="351.90" text-anchor="end">5</text>
<text x="322.6" y="321.90" text-anchor="end">10</text>
<text x="322.6" y="291.90" text-anchor="end">15</text>
<text x="322.6" y="261.90" text-anchor="end">20</text>
<text x="322.6" y="231.90" text-anchor="end">25</text>
</g>
<g font-size="9.3" fill="#111" stroke="#111" stroke-width="0.15">
<text x="349.45" y="392" text-anchor="middle">TA_III(b)</text>
<text x="393.21" y="392" text-anchor="middle">TA_III(c)</text>
<text x="436.97" y="392" text-anchor="middle">TA_III(a)</text>
<text x="480.73" y="392" text-anchor="middle">TA_II</text>
<text x="524.49" y="392" text-anchor="middle">TA_I</text>
</g>
<text transform="translate(310.1,303.8) rotate(-90) scale(0.94,1)" font-size="10.2" fill="#111" stroke="#111" stroke-width="0.15" text-anchor="middle">% cleavage (72h)</text>

<!-- Molecule placeholder -->
<g stroke="#222" stroke-width="1" stroke-linecap="round" fill="none">
<line x1="337.60" y1="125.89" x2="345.50" y2="130.40"/>
<line x1="345.50" y1="130.40" x2="355.90" y2="124.60"/>
<line x1="358.51" y1="111.06" x2="366.30" y2="106.80"/>
<line x1="366.30" y1="106.80" x2="376.70" y2="112.40"/>
<line x1="376.70" y1="112.40" x2="384.63" y2="108.36"/>
<line x1="389.95" y1="108.41" x2="397.80" y2="112.60"/>
<line x1="397.80" y1="112.60" x2="408.50" y2="107.00"/>
<line x1="408.50" y1="107.00" x2="415.61" y2="111.18"/>
<line x1="420.84" y1="111.27" x2="429.10" y2="106.80"/>
<line x1="429.10" y1="106.80" x2="439.10" y2="112.40"/>
<line x1="439.10" y1="112.40" x2="446.44" y2="108.58"/>
<line x1="451.79" y1="108.53" x2="460.00" y2="112.60"/>
<line x1="460.00" y1="112.60" x2="470.20" y2="106.80"/>
<line x1="470.20" y1="106.80" x2="480.90" y2="112.30"/>
<line x1="480.90" y1="112.30" x2="491.80" y2="106.90"/>
<line x1="491.80" y1="106.90" x2="502.00" y2="112.30"/>
<line x1="502.00" y1="112.30" x2="512.20" y2="106.90"/>
<line x1="512.20" y1="106.90" x2="513.60" y2="94.50"/>
<line x1="513.60" y1="94.50" x2="526.00" y2="91.60"/>
<line x1="526.00" y1="91.60" x2="530.39" y2="99.85"/>
<line x1="529.78" y1="104.72" x2="525.82" y2="109.08"/>
<line x1="521.00" y1="110.24" x2="512.20" y2="106.90"/>
<line x1="355.90" y1="124.60" x2="366.40" y2="130.60"/>
<line x1="366.40" y1="130.60" x2="376.80" y2="124.20"/>
<line x1="365.30" y1="106.80" x2="365.30" y2="97.90" stroke-width="0.85"/>
<line x1="367.30" y1="106.80" x2="367.30" y2="97.90" stroke-width="0.85"/>
<line x1="396.80" y1="112.60" x2="396.80" y2="121.40" stroke-width="0.85"/>
<line x1="398.80" y1="112.60" x2="398.80" y2="121.40" stroke-width="0.85"/>
<line x1="428.10" y1="106.80" x2="428.10" y2="97.50" stroke-width="0.85"/>
<line x1="430.10" y1="106.80" x2="430.10" y2="97.50" stroke-width="0.85"/>
<line x1="459.00" y1="112.60" x2="459.00" y2="121.50" stroke-width="0.85"/>
<line x1="461.00" y1="112.60" x2="461.00" y2="121.50" stroke-width="0.85"/>
<path d="M323.00,124.40 L323.25,125.04 L323.50,125.30 L323.75,125.04 L324.00,124.40 L324.25,123.76 L324.50,123.50 L324.75,123.76 L325.00,124.40 L325.25,125.04 L325.50,125.30 L325.75,125.04 L326.00,124.40 L326.25,123.76 L326.50,123.50 L326.75,123.76 L327.00,124.40 L327.25,125.04 L327.50,125.30 L327.75,125.04 L328.00,124.40 L328.25,123.76 L328.50,123.50 L328.75,123.76 L329.00,124.40 L329.25,125.04 L329.50,125.30 L329.75,125.04 L330.00,124.40 L330.25,123.76 L330.50,123.50 L330.75,123.76 L331.00,124.40 L331.25,125.04 L331.50,125.30 L331.75,125.04 L332.00,124.40" stroke-width="0.8"/>
</g>
<path d="M355.90,124.60 L356.86,116.18 L354.66,116.22 Z" fill="#222"/>
<path d="M366.40,130.60 L365.02,139.37 L367.22,139.44 Z" fill="#222"/>
<g font-size="6.6" fill="#222" stroke="#222" stroke-width="0.25">
<text x="335.00" y="126.75" text-anchor="middle">O</text>
<text x="357.9" y="114.80" text-anchor="end">HN</text>
<text x="363.8" y="145.20">OH</text>
<text x="366.30" y="97.25" text-anchor="middle">O</text>
<text x="397.80" y="126.75" text-anchor="middle">O</text>
<text x="429.10" y="96.85" text-anchor="middle">O</text>
<text x="460.00" y="126.85" text-anchor="middle">O</text>
<text x="387.30" y="109.35" text-anchor="middle">N</text>
<text x="418.20" y="115.05" text-anchor="middle">N</text>
<text x="449.10" y="109.55" text-anchor="middle">N</text>
<text x="531.80" y="104.85" text-anchor="middle">S</text>
<text x="523.80" y="113.65" text-anchor="middle">S</text>
<text x="387.30" y="103.55" text-anchor="middle">H</text>
<text x="418.20" y="120.85" text-anchor="middle">H</text>
<text x="449.10" y="103.85" text-anchor="middle">H</text>
</g>
<defs><clipPath id="sup"><path d="M309,101.6 L318.2,101.6 Q322.9,101.6 322.9,106.3 L322.9,138.9 Q322.9,143.6 318.2,143.6 L309,143.6 Z"/></clipPath></defs>
<g clip-path="url(#sup)" stroke="#666" stroke-width="0.8">
<line x1="245.00" y1="146" x2="291.00" y2="100"/>
<line x1="248.00" y1="146" x2="294.00" y2="100"/>
<line x1="251.00" y1="146" x2="297.00" y2="100"/>
<line x1="254.00" y1="146" x2="300.00" y2="100"/>
<line x1="257.00" y1="146" x2="303.00" y2="100"/>
<line x1="260.00" y1="146" x2="306.00" y2="100"/>
<line x1="263.00" y1="146" x2="309.00" y2="100"/>
<line x1="266.00" y1="146" x2="312.00" y2="100"/>
<line x1="269.00" y1="146" x2="315.00" y2="100"/>
<line x1="272.00" y1="146" x2="318.00" y2="100"/>
<line x1="275.00" y1="146" x2="321.00" y2="100"/>
<line x1="278.00" y1="146" x2="324.00" y2="100"/>
<line x1="281.00" y1="146" x2="327.00" y2="100"/>
<line x1="284.00" y1="146" x2="330.00" y2="100"/>
<line x1="287.00" y1="146" x2="333.00" y2="100"/>
<line x1="290.00" y1="146" x2="336.00" y2="100"/>
<line x1="293.00" y1="146" x2="339.00" y2="100"/>
<line x1="296.00" y1="146" x2="342.00" y2="100"/>
<line x1="299.00" y1="146" x2="345.00" y2="100"/>
<line x1="302.00" y1="146" x2="348.00" y2="100"/>
<line x1="305.00" y1="146" x2="351.00" y2="100"/>
<line x1="308.00" y1="146" x2="354.00" y2="100"/>
<line x1="311.00" y1="146" x2="357.00" y2="100"/>
<line x1="314.00" y1="146" x2="360.00" y2="100"/>
<line x1="317.00" y1="146" x2="363.00" y2="100"/>
<line x1="320.00" y1="146" x2="366.00" y2="100"/>
<line x1="323.00" y1="146" x2="369.00" y2="100"/>
<line x1="326.00" y1="146" x2="372.00" y2="100"/>
<line x1="329.00" y1="146" x2="375.00" y2="100"/>
<line x1="332.00" y1="146" x2="378.00" y2="100"/>
<line x1="335.00" y1="146" x2="381.00" y2="100"/>
<line x1="338.00" y1="146" x2="384.00" y2="100"/>
<line x1="341.00" y1="146" x2="387.00" y2="100"/>
<line x1="344.00" y1="146" x2="390.00" y2="100"/>
<line x1="347.00" y1="146" x2="393.00" y2="100"/>
<line x1="350.00" y1="146" x2="396.00" y2="100"/>
<line x1="353.00" y1="146" x2="399.00" y2="100"/>
<line x1="356.00" y1="146" x2="402.00" y2="100"/>
<line x1="359.00" y1="146" x2="405.00" y2="100"/>
<line x1="362.00" y1="146" x2="408.00" y2="100"/>
</g>
<path d="M309,101.6 L318.2,101.6 Q322.9,101.6 322.9,106.3 L322.9,138.9 Q322.9,143.6 318.2,143.6 L309,143.6" fill="none" stroke="#3a3a3a" stroke-width="1.1"/>
<line x1="419.1" y1="98.2" x2="429.1" y2="121.8" stroke="#0000ff" stroke-width="1.9" stroke-dasharray="1.5,0.95"/>
<path d="M410,17 C420,17 430,21 432.8,30 C434.5,37 433.5,45 430,51 C427.5,55.5 425,58.5 422,58.5 C419,58.5 418,55.5 412,55.5 C404,55.5 396,61 392.5,68 C391,71 390,74.6 386,74.6 C380,74.6 372,70 369.8,61 C368,53 370,44 375,35 C381,24 394,17 410,17 Z" fill="#b3b3b3" stroke="#333" stroke-width="1.1"/>
<text x="401.2" y="48.2" font-size="8.9" font-weight="bold" fill="#111" stroke="#111" stroke-width="0.3" letter-spacing="-0.05" text-anchor="middle">Cathepsin B</text>
<line x1="398.9" y1="78.4" x2="420.2" y2="69.7" stroke="#ddd" stroke-width="0.8"/>
<g stroke="#666" fill="none" stroke-linecap="round">
<path d="M412.65,82.72 L411.85,95.86 L412.75,95.94 L414.35,82.88 Z" fill="#666" stroke="none"/>
<path d="M412.73,83.49 L423.36,91.63 L424.04,90.77 L413.67,82.31 Z" fill="#666" stroke="none"/>
<ellipse cx="407.3" cy="80.8" rx="3" ry="1.8" transform="rotate(30 407.3 80.8)" stroke-width="0.8"/>
<ellipse cx="416.2" cy="76.6" rx="1.7" ry="2.5" transform="rotate(15 416.2 76.6)" stroke-width="0.8"/>
<line x1="409.8" y1="82" x2="413.4" y2="83.3" stroke-width="1"/>
<line x1="415.6" y1="79" x2="413.6" y2="83.3" stroke-width="1"/>
</g>
</svg>
</body></html>
